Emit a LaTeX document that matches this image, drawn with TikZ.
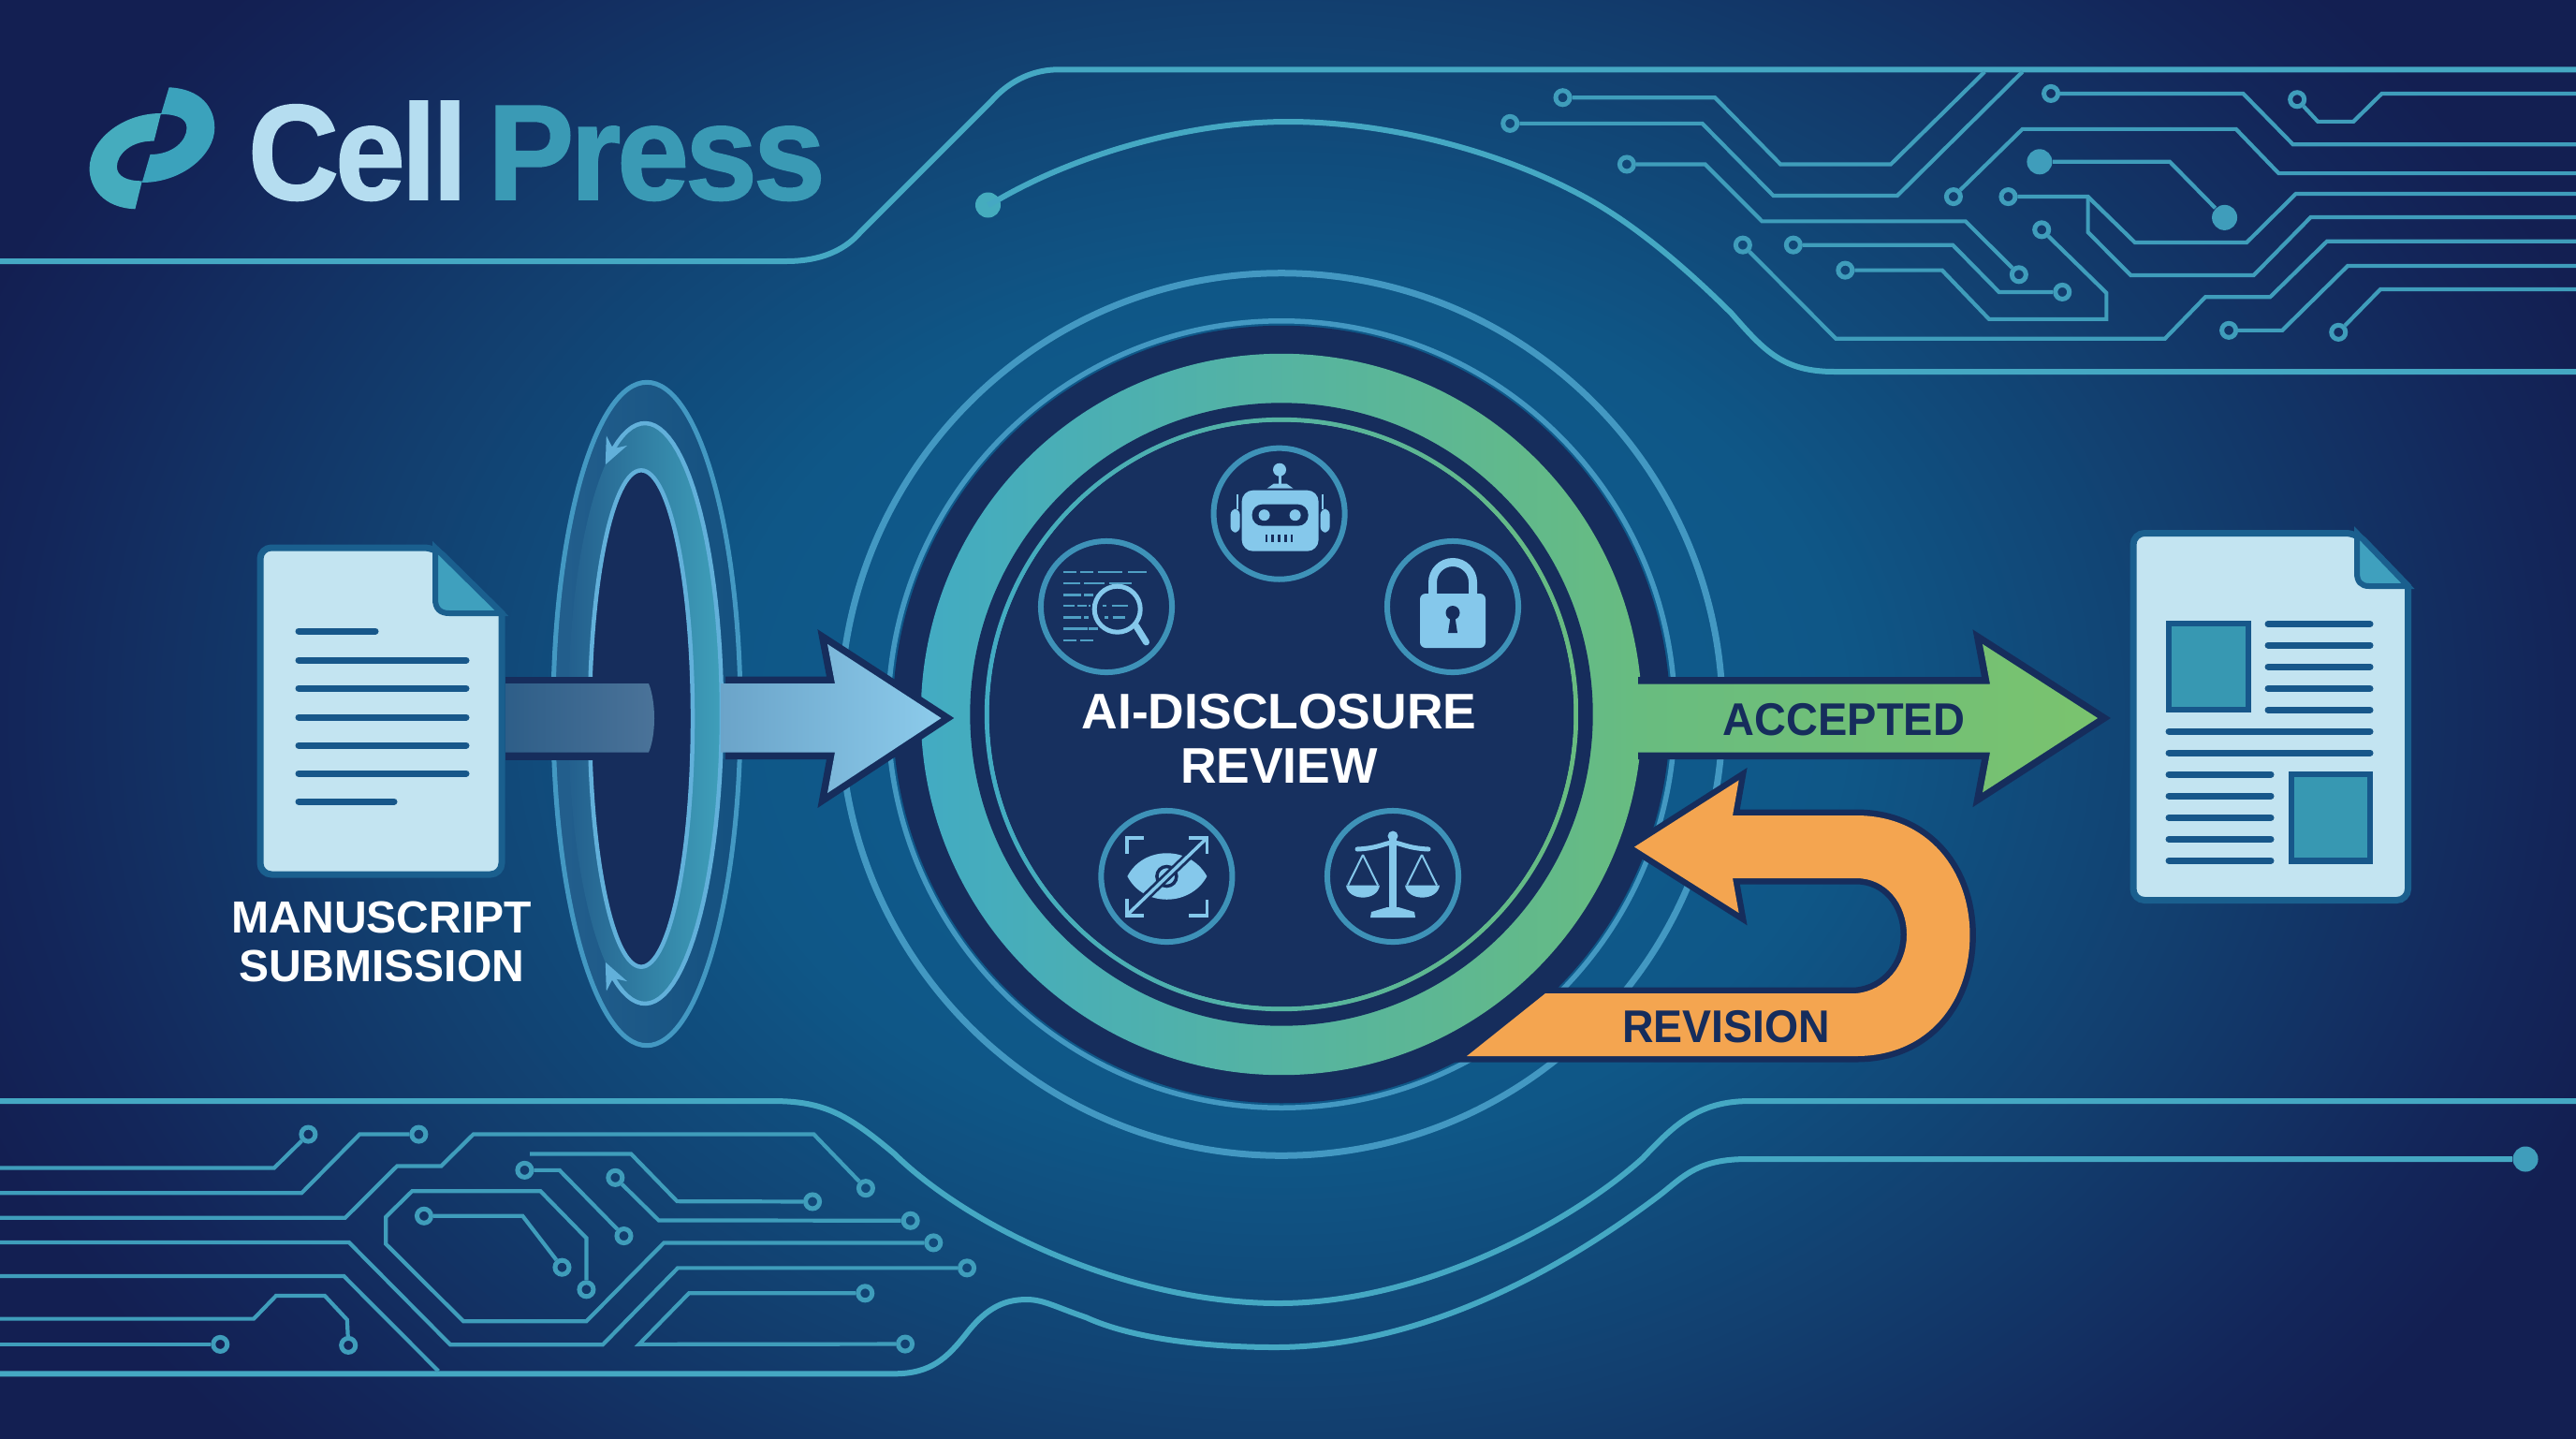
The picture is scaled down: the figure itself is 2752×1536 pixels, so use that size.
\documentclass[tikz,border=0pt]{standalone}
\usepackage{fontspec}
\usepackage{graphicx}
\setmainfont{Liberation Sans}
\newfontfamily\logofont{Liberation Sans}[BoldFeatures={FakeBold=1.2,LetterSpace=-3}]
\usetikzlibrary{arrows.meta}

% palette
\definecolor{bgA}{HTML}{105E92}
\definecolor{bgB}{HTML}{0F5787}
\definecolor{bgC}{HTML}{123F6F}
\definecolor{bgD}{HTML}{13265A}
\definecolor{bgE}{HTML}{131F52}
\definecolor{navy}{HTML}{162D5C}
\definecolor{discfill}{HTML}{17305F}
\definecolor{wire}{HTML}{3F9DBB}
\definecolor{railc}{HTML}{45A8C3}
\definecolor{ringc}{HTML}{4398C2}
\definecolor{bandL}{HTML}{42ABC3}
\definecolor{bandR}{HTML}{68BC80}
\definecolor{greenTip}{HTML}{7AC36E}
\definecolor{icon}{HTML}{85C8EB}
\definecolor{iconring}{HTML}{3E92B8}
\definecolor{codeln}{HTML}{4F9FC4}
\definecolor{paper}{HTML}{C3E4F1}
\definecolor{docedge}{HTML}{1A5F8E}
\definecolor{docink}{HTML}{17578A}
\definecolor{foldc}{HTML}{3FA0BE}
\definecolor{plate}{HTML}{3798B2}
\definecolor{orangec}{HTML}{F4A550}
\definecolor{cellc}{HTML}{B5DDF0}
\definecolor{pressc}{HTML}{3A9AB5}
\definecolor{logoA}{HTML}{45ACBE}
\definecolor{logoB}{HTML}{3BA2BC}
\definecolor{portalL}{HTML}{235F8D}
\definecolor{portalR}{HTML}{3F9FBA}
\definecolor{portalO}{HTML}{14507F}
\definecolor{portalS}{HTML}{62B0DA}
\definecolor{shaftL}{HTML}{2E5E88}
\definecolor{shaftR}{HTML}{4B7399}
\definecolor{headL}{HTML}{6BA4C9}
\definecolor{headR}{HTML}{8CCBEB}

\pgfdeclareradialshading{backglow}{\pgfpoint{0bp}{0bp}}{%
  color(0bp)=(bgA); color(10bp)=(bgB); color(16.5bp)=(bgC);
  color(22.5bp)=(bgD); color(25bp)=(bgE); color(50bp)=(bgE)}

\tikzset{
  rail/.style={draw=railc,line width=0.06cm,line join=round},
  wirepath/.style={draw=wire,line width=0.042cm,line join=miter},
  pad/.style={circle,draw=wire,line width=0.05cm,minimum size=0.15cm,inner sep=0pt},
  paddot/.style={circle,fill=#1,minimum size=0.27cm,inner sep=0pt},
  paddot/.default=wire,
  ringline/.style={draw=ringc},
  iconring/.style={circle,draw=iconring,line width=0.06cm,minimum size=1.40cm,inner sep=0pt},
  inkline/.style={draw=docink,line width=0.07cm,line cap=round},
  codeline/.style={draw=codeln,line width=0.025cm},
  corner/.style={draw=icon,line width=0.035cm},
  lab/.style={inner sep=0pt,outer sep=0pt,align=center},
  labelA/.style={lab,text=white,font=\fontsize{13.66pt}{14.8pt}\selectfont\bfseries},
  labelB/.style={lab,text=white,font=\fontsize{15.2pt}{16.36pt}\selectfont\bfseries},
  labelC/.style={lab,text=navy,font=\fontsize{13.9pt}{15pt}\selectfont\bfseries},
  logoword/.style={lab,anchor=base west,font=\logofont\fontsize{41.25pt}{44pt}\selectfont\bfseries},
}

\begin{document}
\begin{tikzpicture}[x=0.01cm,y=-0.01cm]
\useasboundingbox (0,0) rectangle (2752,1536);
\clip (0,0) rectangle (2752,1536);

% backdrop
\shade[shading=backglow] (-131,-385) rectangle (2869,1915);

% upper rails
\draw[rail] (0,279) -- (840,279) .. controls (880,279) and (905,265) .. (920,247)
  -- (1060,107) .. controls (1080,85) and (1105,74.3) .. (1131,74.3) -- (2752,74.3);
\node[paddot=logoA] (arcdot) at (1055.5,219) {};
\draw[rail] (arcdot.center) -- (1067,213) .. controls (1150,165) and (1270,130) .. (1376,130)
  .. controls (1480,130) and (1600,160) .. (1692,210)
  .. controls (1750,241) and (1810,295) .. (1850,335)
  .. controls (1885,375) and (1905,397) .. (1960,397) -- (2752,397);

% lower rails
\draw[rail] (0,1176) -- (825,1176) .. controls (880,1176) and (905,1190) .. (955,1232)
  .. controls (1040,1315) and (1210,1392) .. (1366,1392)
  .. controls (1520,1392) and (1680,1305) .. (1755,1237)
  .. controls (1790,1200) and (1815,1176) .. (1870,1176) -- (2752,1176);
\node[paddot] (enddot) at (2698,1238) {};
\draw[rail] (0,1467.3) -- (955,1467.3) .. controls (995,1467.3) and (1012,1450) .. (1032,1425)
  .. controls (1055,1395) and (1075,1388) .. (1097,1388)
  .. controls (1115,1388) and (1130,1397) .. (1160,1407)
  .. controls (1210,1430) and (1290,1439) .. (1362,1439)
  .. controls (1520,1439) and (1670,1355) .. (1775,1275)
  .. controls (1800,1255) and (1815,1238) .. (1867,1238) -- (enddot);

% circuit traces, upper right
\begin{scope}[shift={(1560,50)},x=0.0076023cm,y=-0.003333cm]
  \node[pad] (a1) at (144,163) {};
  \node[pad] (a2) at (70,246) {};
  \node[pad] (a3) at (830,150) {};
  \node[pad] (a4) at (1176,169) {};
  \node[pad] (a5) at (693,481) {};
  \node[paddot] (a6) at (814,369) {};
  \node[paddot] (a6e) at (1074,548) {};
  \node[pad] (a7) at (234,377) {};
  \node[pad] (a7e) at (785,731) {};
  \node[pad] (a8) at (770,481) {};
  \node[pad] (a9) at (817,587) {};
  \node[pad] (a9e) at (541,717) {};
  \node[pad] (a10) at (468,636) {};
  \node[pad] (a10e) at (846,787) {};
  \node[pad] (a11) at (397,636) {};
  \node[pad] (a12) at (1080,910) {};
  \node[pad] (a13) at (1234,916) {};
  \draw[wirepath] (a1) -- (358,163) -- (450,377) -- (605,377) -- (737,80);
  \draw[wirepath] (a2) -- (340,246) -- (440,478) -- (614,478) -- (790,80);
  \draw[wirepath] (a3) -- (1100,150) -- (1170,313) -- (1568,313);
  \draw[wirepath] (a4) -- (1205,240) -- (1255,240) -- (1295,150) -- (1568,150);
  \draw[wirepath] (a5) -- (790,264) -- (1090,264) -- (1150,406) -- (1568,406);
  \draw[wirepath] (a6) -- (997,369) -- (a6e);
  \draw[wirepath] (a7) -- (344,377) -- (424,560) -- (710,560) -- (a7e);
  \draw[wirepath] (a8) -- (882,481) -- (948,628) -- (1105,628) -- (1174,472) -- (1568,472);
  \draw[wirepath] (882,481) -- (882,595) -- (942,733) -- (1115,733) -- (1195,547) -- (1568,547);
  \draw[wirepath] (a9) -- (908,790) -- (908,874) -- (743,874) -- (677,717) -- (a9e);
  \draw[wirepath] (a10) -- (692,636) -- (757,787) -- (a10e);
  \draw[wirepath] (a11) -- (528,937) -- (990,937) -- (1047,803) -- (1138,803) -- (1218,624) -- (1568,624);
  \draw[wirepath] (a12) -- (1155,910) -- (1247,703) -- (1568,703);
  \draw[wirepath] (a13) -- (1293,778) -- (1568,778);
\end{scope}

% circuit traces, lower left
\begin{scope}[shift={(0,1150)},x=0.007015cm,y=-0.003333cm]
  \node[pad] (b1) at (469,185) {};
  \node[pad] (b2) at (637,185) {};
  \node[pad] (b3) at (1317,358) {};
  \node[pad] (b4) at (1471,614) {};
  \node[pad] (b6) at (530,862) {};
  \node[pad] (b7) at (335,859) {};
  \node[pad] (b8s) at (892,683) {};
  \node[pad] (b8e) at (1420,533) {};
  \node[pad] (b9s) at (645,447) {};
  \node[pad] (b9e) at (855,612) {};
  \node[pad] (b10s) at (798,300) {};
  \node[pad] (b10e) at (949,511) {};
  \node[pad] (b11) at (1236,401) {};
  \node[pad] (b12s) at (936,324) {};
  \node[pad] (b12e) at (1385,462) {};
  \node[pad] (b13s) at (1316,695) {};
  \node[pad] (b13e) at (1377,858) {};
  \draw[wirepath] (0,293) -- (417,293) -- (b1);
  \draw[wirepath] (0,373) -- (459,373) -- (547,185) -- (b2);
  \draw[wirepath] (0,453) -- (525,453) -- (604,287) -- (671,287) -- (720,185) -- (1238,185) -- (b3);
  \draw[wirepath] (0,532) -- (531,532) -- (685,860) -- (917,860) -- (1031,614) -- (b4);
  \draw[wirepath] (0,640) -- (523,640) -- (667,945);
  \draw[wirepath] (0,777) -- (386,777) -- (420,703) -- (494,703) -- (528,780) -- (b6);
  \draw[wirepath] (0,859) -- (b7);
  \draw[wirepath] (b8s) -- (892,518) -- (822,367) -- (627,367) -- (587,450) -- (587,537) -- (705,785) -- (892,785) -- (1010,533) -- (b8e);
  \draw[wirepath] (b9s) -- (795,447) -- (b9e);
  \draw[wirepath] (b10s) -- (851,300) -- (b10e);
  \draw[wirepath] (806,248) -- (960,248) -- (1030,400) -- (b11);
  \draw[wirepath] (b12s) -- (1002,461) -- (b12e);
  \draw[wirepath] (b13s) -- (1048,695) -- (972,859) -- (b13e);
\end{scope}

% logo mark and wordmark
\fill[logoA] (144.4,223.3) .. controls (110,222) and (95.6,200) .. (95.6,180)
  .. controls (95.6,150) and (130,121) .. (172,121) -- (164.5,150.7)
  .. controls (140,150) and (124.9,165) .. (124.9,178)
  .. controls (124.9,188) and (135,193.3) .. (151.8,193.3) -- cycle;
\fill[logoB] (180.6,93.3) .. controls (215,95) and (229.3,115) .. (229.3,136.7)
  .. controls (229.3,165) and (195,195) .. (151.8,195) -- (160.5,165)
  .. controls (185,165) and (199.5,150) .. (199.5,136.7)
  .. controls (199.5,127) and (190,122) .. (172,122) -- cycle;
\node[logoword,text=cellc] (cell) at (265,213) {\scalebox{0.926}[1]{Cell}};
\node[logoword,text=pressc] (press) at (521,213) {\scalebox{0.955}[1]{Press}};

% concentric review dial
\draw[ringline,line width=0.07cm] (1369,763) circle [radius=4.71cm];
\draw[ringline,line width=0.055cm] (1369,763) circle [radius=4.20cm];
\fill[navy] (1369,763) circle [radius=4.15cm];
\shade[left color=bandL,right color=bandR] (1369,763) circle [radius=3.85cm];
\fill[navy] (1369,763) circle [radius=3.325cm];
\shade[left color=bandL,right color=bandR,even odd rule] (1369,763) circle [radius=3.17cm] (1369,763) circle [radius=3.12cm];
\fill[discfill] (1369,763) circle [radius=3.12cm];

\node[iconring] (botring) at (1366.6,548.7) {};
\node[iconring] (lockring) at (1552,648) {};
\node[iconring] (scanring) at (1182,648) {};
\node[iconring] (eyering) at (1246.4,936) {};
\node[iconring] (lawring) at (1488,936) {};

% robot
\begin{scope}[shift={(botring.center)}]
  \fill[icon] (0.4,-47) circle [radius=0.07cm];
  \fill[icon] (-1,-47) rectangle (2,-30);
  \fill[icon] (-13,-27) -- (15,-27) -- (8,-32) -- (-6,-32) -- cycle;
  \fill[icon,rounded corners=0.12cm] (-40,-25) rectangle (42,40);
  \fill[icon,rounded corners=0.06cm] (-52,-5) rectangle (-42,20);
  \fill[icon,rounded corners=0.06cm] (44,-5) rectangle (54,20);
  \draw[icon,line width=0.02cm] (-45,-21) -- (-45,-5);
  \draw[icon,line width=0.02cm] (46,-21) -- (46,-5);
  \fill[navy,rounded corners=0.11cm] (-29,-10) rectangle (31,13);
  \fill[icon] (-16,1.5) circle [radius=0.06cm];
  \fill[icon] (17,1.5) circle [radius=0.06cm];
  \foreach \u in {-13.5,-7,0,7,13.5} \fill[navy] (\u-1.2,22) rectangle (\u+1.2,30);
\end{scope}

% padlock
\begin{scope}[shift={(lockring.center)}]
  \draw[icon,line width=0.09cm] (-21.5,-14) -- (-21.5,-26) arc [start angle=180,end angle=0,radius=0.215cm] -- (21.5,-14);
  \fill[icon,rounded corners=0.06cm] (-35,-14) rectangle (35,44);
  \fill[navy] (0,6.5) circle [radius=0.075cm];
  \fill[navy] (-2,8) -- (2,8) -- (5,28) -- (-5,28) -- cycle;
\end{scope}

% magnifier over code lines
\begin{scope}[shift={(scanring.center)}]
  \draw[codeline] (-46.4,-37) -- (-32.5,-37) (-28.2,-37) -- (-14.3,-37) (-9.5,-37) -- (17.3,-37) (23,-37) -- (42.5,-37);
  \draw[codeline] (-46.4,-25) -- (-28.2,-25) (-23.9,-25) -- (-2.2,-25) (3,-25) -- (27.3,-25);
  \draw[codeline] (-46.4,-12.6) -- (-26.9,-12.6) (-23.9,-12.6) -- (-14.3,-12.6);
  \draw[codeline] (-46.4,-0.8) -- (-34,-0.8) (-31,-0.8) -- (-21,-0.8) (-19,-0.8) -- (-17,-0.8) (-4.3,-0.8) -- (0,-0.8) (5.6,-0.8) -- (23,-0.8);
  \draw[codeline] (-46.4,11.5) -- (-27.3,11.5) (-23.9,11.5) -- (-18.7,11.5) (-2.2,11.5) -- (2.2,11.5) (6.5,11.5) -- (19.5,11.5);
  \draw[codeline] (-46.4,23.7) -- (-20.4,23.7) (-18.7,23.7) -- (-8.7,23.7);
  \draw[codeline] (-46.4,36) -- (-32.5,36) (-28.2,36) -- (-14.3,36);
  \draw[icon,line width=0.05cm] (11.7,2.7) circle [radius=0.245cm];
  \draw[icon,line width=0.07cm,line cap=round] (31.8,20.7) -- (42.5,37.9);
\end{scope}

% crossed-out eye in a frame
\begin{scope}[shift={(eyering.center)}]
  \fill[icon] (-42,0) .. controls (-25,-33) and (25,-33) .. (43,0) .. controls (25,33) and (-25,33) .. (-42,0) -- cycle;
  \draw[navy,line width=0.035cm] (0,0) circle [radius=0.105cm];
  \draw[corner] (-42.5,-24) -- (-42.5,-41) -- (-24,-41);
  \draw[corner] (24,-41) -- (43,-41) -- (43,-24);
  \draw[corner] (43,25) -- (43,42) -- (24,42);
  \draw[corner] (-42.5,24) -- (-42.5,42) -- (-24,42);
  \draw[discfill,line width=0.09cm] (-34,33) -- (34,-32);
  \draw[icon,line width=0.035cm] (-42,41) -- (42,-40);
\end{scope}

% balance scales
\begin{scope}[shift={(lawring.center)}]
  \draw[icon,line width=0.02cm] (-32,-23) -- (-48,9.5) (-32,-23) -- (-16,9.5);
  \draw[icon,line width=0.02cm] (31,-23) -- (15,9.5) (31,-23) -- (47,9.5);
  \draw[icon,line width=0.085cm] (0,-43) -- (0,36);
  \fill[icon] (0,-43) circle [radius=0.055cm];
  \draw[icon,line width=0.05cm,line cap=round] (-38,-29) .. controls (-15,-30) and (-8,-36) .. (0,-36) .. controls (8,-36) and (15,-30) .. (38,-29);
  \fill[icon] (-50,9.5) -- (-14,9.5) .. controls (-16,27) and (-48,27) .. (-50,9.5) -- cycle;
  \fill[icon] (13,9.5) -- (50,9.5) .. controls (48,27) and (15,27) .. (13,9.5) -- cycle;
  \fill[icon] (-24,44) -- (24,44) -- (23,38) -- (6,33) -- (-6,33) -- (-23,38) -- cycle;
\end{scope}

\node[labelB] (review) at (1366.5,789) {AI-DISCLOSURE\\REVIEW};

% portal around the incoming flow
\shade[left color=portalL,right color=portalO] (691,762.5) ellipse [x radius=1.00cm,y radius=3.54cm];
\shade[left color=portalL,right color=portalR] (689,762) ellipse [x radius=0.82cm,y radius=3.10cm];
\draw[ringline,line width=0.05cm] (691,762.5) ellipse [x radius=1.00cm,y radius=3.54cm];
\fill[navy] (685,767.5) ellipse [x radius=0.55cm,y radius=2.65cm];
\draw[portalS,line width=0.045cm] (685,767.5) ellipse [x radius=0.55cm,y radius=2.65cm];
\draw[portalS,line width=0.045cm,{Stealth[length=0.28cm,width=0.24cm]}-{Stealth[length=0.28cm,width=0.24cm]}]
  plot[domain=-121:121,samples=70] ({689+82*cos(\x)},{762+310*sin(\x)});

% shaft entering the portal
\fill[navy] (540,723) rectangle (660,811.5);
\shade[left color=shaftL,right color=shaftR] (540,730) -- (693,730) .. controls (701,750) and (701,785) .. (693,803.5) -- (540,803.5) -- cycle;

% incoming arrow
\draw[navy,line width=0.15cm,miter limit=8] (775,730) -- (892,730) -- (884,688) -- (1005.5,767) -- (884,847) -- (892,803.5) -- (775,803.5);
\shade[left color=headL,right color=headR] (770,730) -- (892,730) -- (884,688) -- (1005.5,767) -- (884,847) -- (892,803.5) -- (770,803.5) -- cycle;

% accepted arrow
\draw[navy,line width=0.15cm,miter limit=8] (1750,730.6) -- (2126,730.6) -- (2118,688) -- (2241,767) -- (2118,846.4) -- (2126,803.7) -- (1750,803.7);
\shade[left color=bandR,right color=greenTip] (1745,730.6) -- (2126,730.6) -- (2118,688) -- (2241,767) -- (2118,846.4) -- (2126,803.7) -- (1745,803.7) -- cycle;
\node[labelC,anchor=base] (accepted) at (1970,785) {\scalebox{0.96}[1]{ACCEPTED}};

% revision return arrow
\fill[orangec,preaction={draw=navy,line width=0.13cm,miter limit=8}]
  (1567,1128) -- (1983,1128) .. controls (2060,1128) and (2104.4,1070) .. (2104.4,998.7)
  .. controls (2104.4,930) and (2060,871) .. (1983,871) -- (1851,871) -- (1857.6,833.4) -- (1746,904.6)
  -- (1857.6,975) -- (1851,938) -- (1983,938) .. controls (2015,938) and (2037,965) .. (2037,998.7)
  .. controls (2037,1030) and (2015,1058) .. (1983,1061) -- (1651,1061) -- cycle;
\node[labelC,anchor=base] (revision) at (1844,1113.4) {\scalebox{0.95}[1]{REVISION}};

% submitted manuscript
\filldraw[draw=docedge,fill=paper,line width=0.07cm,rounded corners=0.12cm]
  (278,585) -- (465,585) [sharp corners] -- (536,655) [rounded corners=0.12cm] -- (536,934) -- (278,934) -- cycle;
\filldraw[draw=docedge,fill=foldc,line width=0.06cm] (465,585) -- (465,640) .. controls (465,650) and (470,655) .. (480,655) -- (536,655) -- cycle;
\draw[inkline] (319,674) -- (401,674);
\foreach \v in {705,735,766,796,826} \draw[inkline] (319,\v) -- (498,\v);
\draw[inkline] (319,856) -- (421,856);
\node[labelA] (submission) at (408,1006) {MANUSCRIPT\\SUBMISSION};

% published article
\filldraw[draw=docedge,fill=paper,line width=0.07cm,rounded corners=0.12cm]
  (2279,569.5) -- (2518,569.5) [sharp corners] -- (2572.5,626) [rounded corners=0.12cm] -- (2572.5,961.5) -- (2279,961.5) -- cycle;
\filldraw[draw=docedge,fill=foldc,line width=0.06cm] (2518,569.5) -- (2518,612) .. controls (2518,621) and (2522,626) .. (2531,626) -- (2572.5,626) -- cycle;
\filldraw[draw=docink,fill=plate,line width=0.065cm] (2317,666) rectangle (2402,758);
\filldraw[draw=docink,fill=plate,line width=0.065cm] (2448,827) rectangle (2532,919.5);
\foreach \v in {666.5,689,712,735.3,758.3} \draw[inkline] (2423,\v) -- (2532,\v);
\foreach \v in {781.2,804} \draw[inkline] (2317,\v) -- (2532,\v);
\foreach \v in {827,850,873.3,896.3,919.2} \draw[inkline] (2317,\v) -- (2426,\v);
\end{tikzpicture}
\end{document}
